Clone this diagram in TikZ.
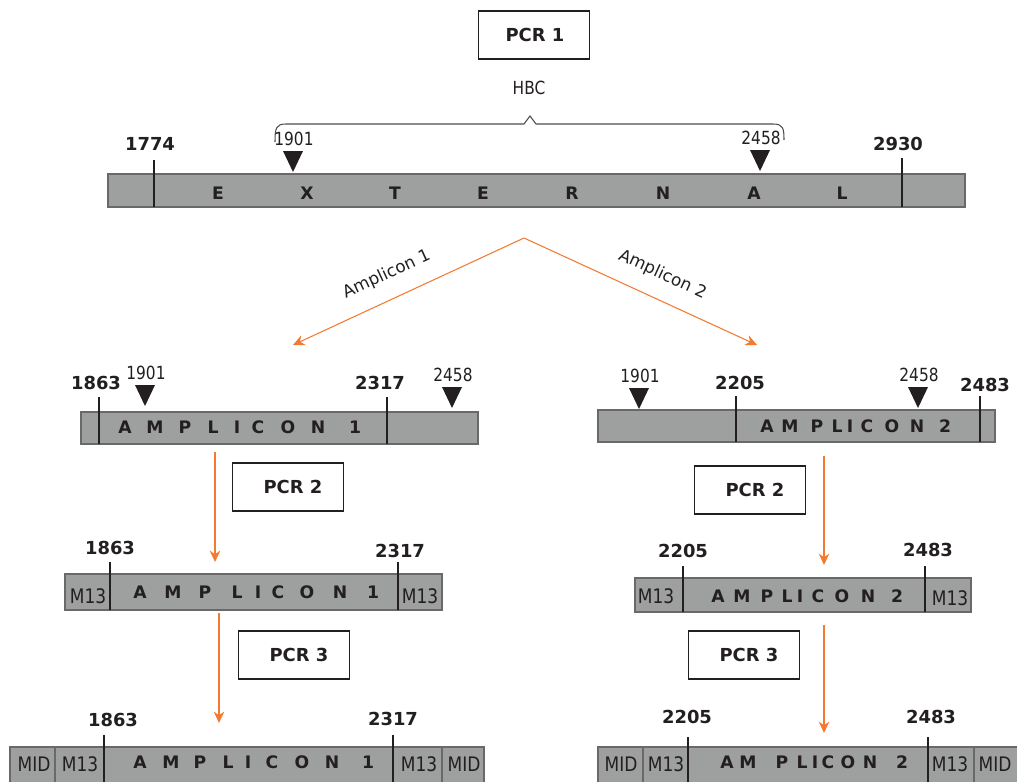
\documentclass[tikz,border=0pt]{standalone}
\usepackage{fontspec}
\setmainfont{DejaVu Sans}
\newfontfamily\narrowfont{DejaVu Sans}[FakeStretch=0.85]
\usetikzlibrary{arrows.meta,positioning}
\definecolor{bargray}{RGB}{158,159,159}
\definecolor{barline}{RGB}{105,105,105}
\definecolor{ink}{RGB}{35,31,32}
\definecolor{flowor}{RGB}{243,122,48}
\tikzstyle{strand}=[draw=barline,fill=bargray,line width=0.7pt]
\tikzstyle{divider}=[draw=barline,line width=0.7pt]
\tikzstyle{cutline}=[draw=ink,line width=1.1pt]
\tikzstyle{sitemark}=[fill=ink]
\tikzstyle{box}=[draw=ink,line width=1pt,minimum width=2.22cm,minimum height=0.97cm,inner sep=0pt,font=\bfseries\fontsize{10.2}{11}\selectfont,text=ink]
\tikzstyle{numlabel}=[font=\bfseries\fontsize{10.2}{12}\selectfont,text=ink,inner sep=0pt]
\tikzstyle{sitelabel}=[font=\narrowfont\fontsize{10.3}{11}\selectfont,text=ink,inner sep=0pt]
\tikzstyle{ampname}=[font=\fontsize{9.6}{11}\selectfont,text=ink,inner sep=0pt]
\tikzstyle{seqletter}=[font=\bfseries\fontsize{9.8}{11}\selectfont,text=ink,inner sep=0pt]
\tikzstyle{tagtext}=[font=\narrowfont\fontsize{11.4}{13}\selectfont,text=ink,inner sep=0pt]
\tikzstyle{flow}=[draw=flowor,line width=0.6pt,-{Stealth[length=6.5pt,width=6pt]}]

\begin{document}
\begin{tikzpicture}[x=0.02cm,y=-0.02cm]
\clip (0,0) rectangle (1017,781);

% PCR boxes
\foreach \pos/\name/\txt/\sh in {{(534,35)/pcr1/PCR 1/0.04cm},
{(288,487)/pcrtwoa/PCR 2/0.2cm},
{(750,490)/pcrtwob/PCR 2/0.2cm},
{(294,655)/pcrthreea/PCR 3/0.2cm},
{(744,655)/pcrthreeb/PCR 3/0.2cm}}
\node[box] (\name) at \pos {\hspace*{\sh}\txt};

\node[sitelabel] (hbc) at (529,88) {HBC};

% brace over the HBC region
\draw[draw=ink!80,line width=0.6pt] (275,142) .. controls (275,128) and (276,124) .. (286,124)
  -- (524,124) -- (530,116) -- (536,124) -- (773,124) .. controls (783,124) and (784,128) .. (784,140);

% the bars
\foreach \a/\b/\c/\d in {108/174/965/207, 81/412/478/444, 598/410/995/442,
  65/574/442/610, 635/578/971/612, 10/747/484/800, 598/747/1030/800}
\draw[strand] (\a,\b) rectangle (\c,\d);

% MID / M13 borders
\foreach \x in {55,442,643,974}
\draw[divider] (\x,747) -- (\x,800);

% primer positions
\foreach \x/\y/\z in {154/160/207, 902/158/207, 99/397/444, 387/397/444,
  736/396/442, 980/396/442, 110/562/610, 398/562/610, 683/566/612, 925/566/612,
  104/735/800, 393/735/800, 688/737/800, 928/737/800}
\draw[cutline] (\x,\y) -- (\x,\z);

\foreach \pos/\name/\txt in {{(150,144)/pa/1774},{(898,144)/pb/2930},
{(96,383)/pc/1863},{(380,383)/pd/2317},{(740,383)/pe/2205},{(985,385)/pf/2483},
{(110,548)/pg/1863},{(400,551)/ph/2317},{(683,551)/pi/2205},{(928,550)/pj/2483},
{(113,720)/pk/1863},{(393,719)/pl/2317},{(687,717)/pm/2205},{(931,717)/pn/2483}}
\node[numlabel] (\name) at \pos {\txt};

% HBC sites
\foreach \x/\y/\txt in {293/151/1901, 760/150/2458, 145/385/1901, 452/387/2458,
  639/388/1901, 918/387/2458}
{
\fill[sitemark] (\x-10,\y) -- (\x+10,\y) -- (\x,\y+21) -- cycle;
\node[sitelabel] at (\x+1,\y-12) {\txt};
}

% letters in the bars
\foreach \x/\l in {218/E,307/X,395/T,483/E,572/R,663/N,754/A,842/L}
\node[seqletter] at (\x,193) {\l};
\foreach \x/\l in {125/A,155/M,185/P,213/L,237/I,258/C,288/O,318/N,355/1}
\node[seqletter] at (\x,427) {\l};
\foreach \x/\l in {767/A,790/M,817/P,837/L,850/I,867/C,892/O,917/N,945/2}
\node[seqletter] at (\x,426) {\l};
\foreach \x/\l in {140/A,173/M,205/P,237/L,258/I,278/C,307/O,340/N,373/1}
\node[seqletter] at (\x,592) {\l};
\foreach \x/\l in {718/A,742/M,767/P,787/L,800/I,818/C,842/O,868/N,897/2}
\node[seqletter] at (\x,596) {\l};
\foreach \x/\l in {140/A,171/M,200/P,228/L,248/I,272/C,302/O,332/N,368/1}
\node[seqletter] at (\x,762) {\l};
\foreach \x/\l in {727/A,748/M,782/P,802/L,815/I,828/C,848/O,870/N,902/2}
\node[seqletter] at (\x,762) {\l};

% M13 and MID tags
\foreach \pos/\txt in {{(88,596)/M13},{(420,596)/M13},{(656,596)/M13},{(950,598)/M13},
{(34,764)/MID},{(80,764)/M13},{(419,764)/M13},{(464,764)/MID},
{(621,764)/MID},{(666,764)/M13},{(950,764)/M13},{(995,764)/MID}}
\node[tagtext] at \pos {\txt};

% arrows
\coordinate (split) at (524,238);
\coordinate (toone) at (293,345);
\coordinate (totwo) at (757,345);
\draw[flow] (split) -- node[ampname,above=9pt,sloped,pos=0.55] {Amplicon 1} (toone);
\draw[flow] (split) -- node[ampname,above=9pt,sloped,pos=0.55] {Amplicon 2} (totwo);

\coordinate (sa) at (215,452); \coordinate (ea) at (215,562);
\coordinate (sb) at (824,456); \coordinate (eb) at (824,565);
\coordinate (sc) at (219,613); \coordinate (ec) at (219,723);
\coordinate (sd) at (824,625); \coordinate (ed) at (824,733);
\foreach \s/\e in {sa/ea,sb/eb,sc/ec,sd/ed}
\draw[flow] (\s) -- (\e);

\end{tikzpicture}
\end{document}
